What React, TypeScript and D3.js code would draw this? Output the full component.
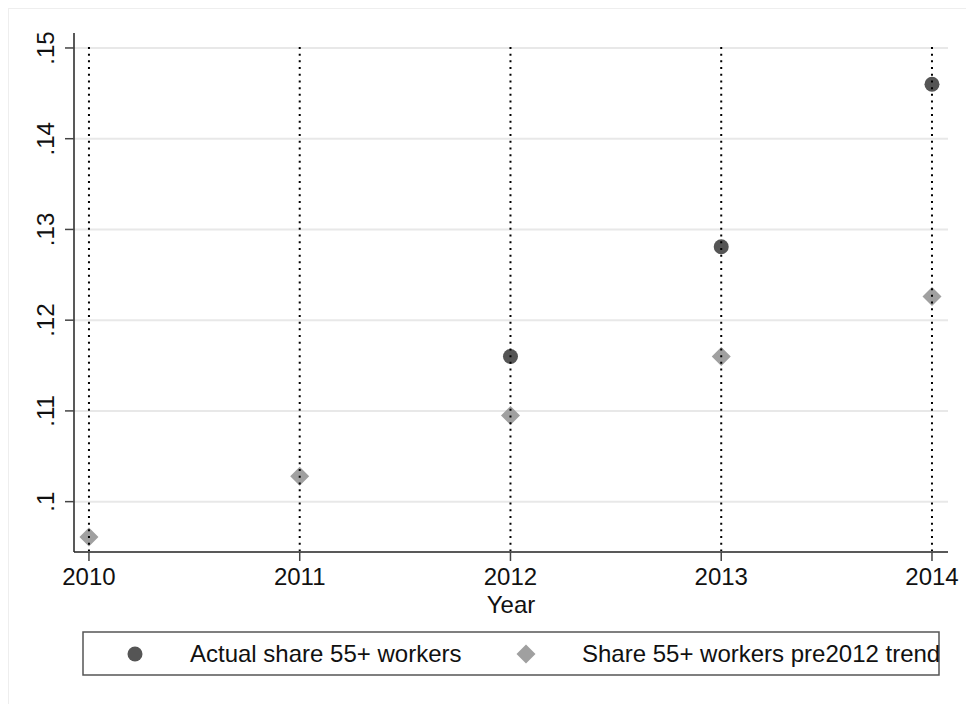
import React from "react";
import * as d3 from "d3";

const years = [2010, 2011, 2012, 2013, 2014];
const actualYears = [2012, 2013, 2014];
const actualShare = [0.116, 0.1281, 0.146];
const trendYears = [2010, 2011, 2012, 2013, 2014];
const trendShare = [0.0961, 0.1028, 0.1095, 0.116, 0.1226];
const yTicks = [0.1, 0.11, 0.12, 0.13, 0.14, 0.15];
const yTickLabels = [".1", ".11", ".12", ".13", ".14", ".15"];
const legendLabels = ["Actual share 55+ workers", "Share 55+ workers pre2012 trend"];

const W = 966;
const H = 704;
const FONT = "'Liberation Sans', Arial, Helvetica, sans-serif";

export default function App() {
  const x = d3.scaleLinear().domain([2009.929, 2014.076]).range([74, 948]);
  const y = d3.scaleLinear().domain([0.09445, 0.15165]).range([552, 33]);
  const [x0, x1] = x.range();
  const [yb, yt] = y.range();
  const diamond = (cx: number, cy: number, r: number) =>
    `M${cx},${cy - r}L${cx + r},${cy}L${cx},${cy + r}L${cx - r},${cy}Z`;

  return (
    <svg
      width={W}
      height={H}
      style={{ position: "absolute", left: 0, top: 0, background: "#fff" }}
      fontFamily={FONT}
    >
      <rect x={8.5} y={8.5} width={W} height={H} fill="none" stroke="#eeeeee" />
      {/* gridlines */}
      {yTicks.map((t) => (
        <line key={"g" + t} x1={x0} x2={x1} y1={y(t)} y2={y(t)} stroke="#e8e8e8" strokeWidth={2} />
      ))}
      {/* markers */}
      {trendYears.map((yr, i) => (
        <path key={"d" + yr} d={diamond(x(yr), y(trendShare[i]), 9.5)} fill="#a0a0a0" />
      ))}
      {actualYears.map((yr, i) => (
        <circle key={"c" + yr} cx={x(yr)} cy={y(actualShare[i])} r={7.5} fill="#555555" />
      ))}
      {/* dotted year lines */}
      {years.map((yr) => (
        <line
          key={"v" + yr}
          x1={x(yr)}
          x2={x(yr)}
          y1={y(0.15) - 1}
          y2={yb - 1}
          stroke="#000"
          strokeWidth={2}
          strokeDasharray="2 4.7"
        />
      ))}
      {/* axes */}
      <line x1={x0} x2={x0} y1={yt} y2={yb} stroke="#222" strokeWidth={1.5} />
      <line x1={x0} x2={x1} y1={yb} y2={yb} stroke="#222" strokeWidth={1.5} />
      {yTicks.map((t, i) => (
        <g key={"yt" + t}>
          <line x1={x0 - 9} x2={x0} y1={y(t)} y2={y(t)} stroke="#444" strokeWidth={1.5} />
          <text
            transform={`translate(54,${y(t)}) rotate(-90)`}
            textAnchor="middle"
            fontSize={24}
            fill="#111"
          >
            {yTickLabels[i]}
          </text>
        </g>
      ))}
      {years.map((yr) => (
        <g key={"xt" + yr}>
          <line x1={x(yr)} x2={x(yr)} y1={yb} y2={yb + 9} stroke="#444" strokeWidth={1.5} />
          <text x={x(yr)} y={585} textAnchor="middle" fontSize={24} fill="#111">
            {yr}
          </text>
        </g>
      ))}
      <text x={(x0 + x1) / 2} y={613} textAnchor="middle" fontSize={24} fill="#111">
        Year
      </text>
      {/* legend */}
      <rect x={83} y={632} width={856} height={43} fill="#fff" stroke="#555" strokeWidth={1.5} />
      <circle cx={135} cy={654} r={7.5} fill="#555555" />
      <text x={190} y={662} fontSize={24} fill="#111">
        {legendLabels[0]}
      </text>
      <path d={diamond(526, 654, 9.5)} fill="#a0a0a0" />
      <text x={582} y={662} fontSize={24} fill="#111">
        {legendLabels[1]}
      </text>
    </svg>
  );
}
